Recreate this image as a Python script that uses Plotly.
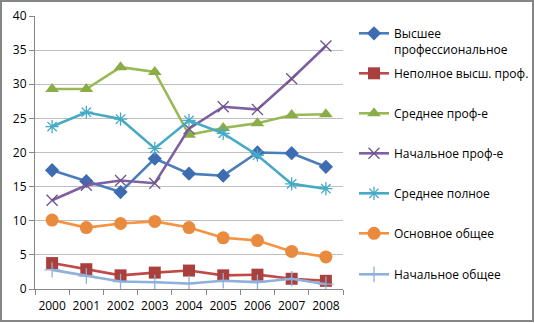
import plotly.graph_objects as go

years = ["2000", "2001", "2002", "2003", "2004", "2005", "2006", "2007", "2008"]

names = [
    "Высшее<br>профессиональное",
    "Неполное высш. проф.",
    "Среднее проф-е",
    "Начальное проф-е",
    "Среднее полное",
    "Основное общее",
    "Начальное общее",
]

vysshee = [17.4, 15.8, 14.2, 19.1, 16.9, 16.6, 20.0, 19.9, 17.9]
nepolnoe = [3.8, 2.9, 2.0, 2.4, 2.7, 2.0, 2.1, 1.5, 1.2]
srednee_prof = [29.3, 29.3, 32.5, 31.8, 22.6, 23.6, 24.3, 25.5, 25.6]
nachalnoe_prof = [13.0, 15.2, 15.9, 15.5, 23.5, 26.7, 26.3, 30.8, 35.6]
srednee_polnoe = [23.8, 25.9, 24.9, 20.6, 24.7, 22.8, 19.6, 15.4, 14.7]
osnovnoe = [10.1, 9.0, 9.6, 9.9, 9.0, 7.5, 7.1, 5.5, 4.7]
nachalnoe_obshee = [2.8, 1.9, 1.1, 1.0, 0.8, 1.2, 1.0, 1.5, 0.7]

series = [vysshee, nepolnoe, srednee_prof, nachalnoe_prof,
          srednee_polnoe, osnovnoe, nachalnoe_obshee]

line_colors = ["#4A7EBB", "#BE4B48", "#98B954", "#7D60A0", "#46AAC5", "#F69240", "#8EB0DB"]
marker_colors = ["#3D6DB0", "#A9403D", "#8AAD48", "#6E5391", "#46AAC5", "#E98B3E", "#8EB0DB"]
symbols = ["diamond", "square", "triangle-up", "x-thin-open",
           "asterisk-open", "circle", "cross-thin-open"]
sizes = [11, 12, 12, 11, 11, 13, 11]

W, H = 535, 323
L, R, T, B = 35, 192, 16, 34
pw, ph = W - L - R, H - T - B

# vertical centres (px from top) of each legend entry
legend_px = [33, 73, 113, 153, 193, 233, 274]

fig = go.Figure()
font = dict(family="Open Sans, DejaVu Sans, sans-serif", size=12, color="#000000")

for i, (name, vals) in enumerate(zip(names, series)):
    lg = "legend" if i == 0 else f"legend{i + 1}"
    open_sym = symbols[i].endswith("open")
    fig.add_trace(go.Scatter(
        x=years, y=vals, name=name, mode="lines+markers",
        line=dict(color=line_colors[i], width=2.6),
        marker=dict(symbol=symbols[i], size=sizes[i], color=marker_colors[i],
                    line=dict(color=marker_colors[i], width=1.3 if open_sym else 0)),
        legend=lg,
    ))
    ypaper = (H - B - legend_px[i]) / ph
    leg = dict(x=(354 - L) / pw, y=ypaper + (14 / ph), xanchor="left", yanchor="top",
               bgcolor="rgba(0,0,0,0)", font=font, valign="top",
               itemwidth=30, tracegroupgap=0, borderwidth=0)
    fig.update_layout(**{lg: leg})

fig.update_layout(
    width=W, height=H,
    margin=dict(l=L, r=R, t=T, b=B, autoexpand=False),
    paper_bgcolor="white", plot_bgcolor="white",
    font=font,
    showlegend=True,
    xaxis=dict(type="category", range=[-0.5, 8.5], tickson="boundaries",
               ticks="outside", ticklen=5, tickcolor="#868686", tickangle=0,
               automargin=False, ticklabelstandoff=6,
               showline=True, linecolor="#868686", linewidth=1,
               showgrid=False, tickfont=font),
    yaxis=dict(range=[0, 40], dtick=5, ticks="outside", ticklen=5,
               tickcolor="#868686", showline=True, linecolor="#868686",
               automargin=False,
               linewidth=1, showgrid=True, gridcolor="#BFBFBF", gridwidth=1,
               zeroline=False, tickfont=font),
    shapes=[dict(type="rect", xref="paper", yref="paper",
                 x0=-(L - 1) / pw, x1=1 + (R - 2) / pw,
                 y0=-(B - 2) / ph, y1=1 + (T - 1) / ph,
                 line=dict(color="#868686", width=2), fillcolor="rgba(0,0,0,0)",
                 layer="below")],
)

fig.write_html("out.html")
